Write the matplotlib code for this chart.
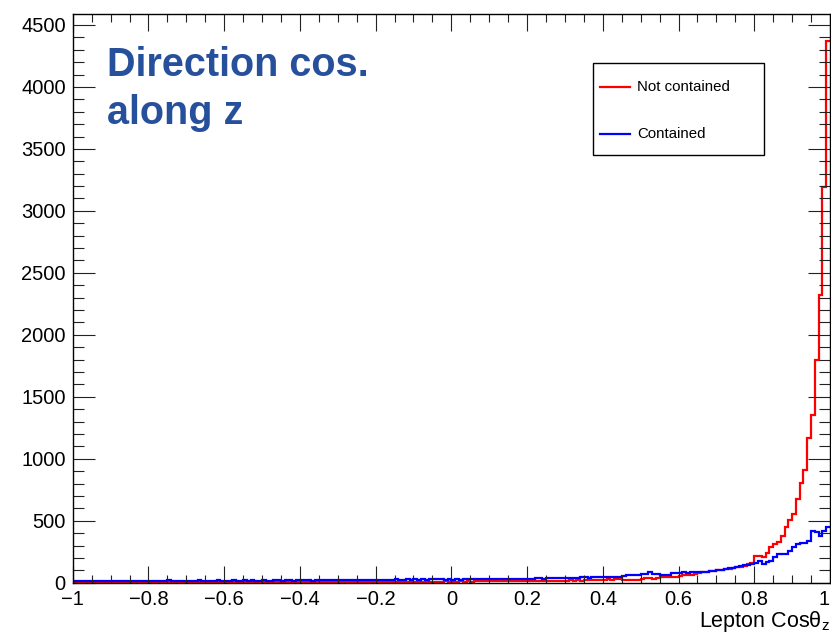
import numpy as np
from matplotlib import pyplot as plt
from matplotlib.patches import Rectangle
from matplotlib.lines import Line2D

plt.rcParams['font.family'] = ['Liberation Sans', 'DejaVu Sans']
plt.rcParams['mathtext.fontset'] = 'custom'
plt.rcParams['mathtext.rm'] = 'Liberation Sans'
plt.rcParams['mathtext.it'] = 'Liberation Sans:italic'

# 200 bins of lepton cos(theta_z), from -1 to 1
bin_edges = np.linspace(-1.0, 1.0, 201)

not_contained = [
    3, 4, 2, 5, 3, 4, 3, 2, 4, 3,
    4, 3, 5, 2, 3, 4, 3, 5, 4, 3,
    3, 5, 4, 3, 4, 2, 5, 4, 3, 4,
    4, 3, 5, 4, 3, 5, 4, 4, 3, 5,
    5, 4, 3, 5, 4, 6, 4, 3, 5, 4,
    4, 5, 6, 4, 5, 3, 5, 6, 4, 5,
    5, 6, 4, 5, 6, 5, 4, 6, 5, 7,
    6, 5, 7, 5, 6, 4, 6, 7, 5, 6,
    6, 7, 5, 8, 6, 7, 6, 8, 7, 6,
    7, 8, 6, 9, 7, 8, 9, 7, 10, 8,
    9, 8, 10, 9, 11, 9, 10, 12, 10, 11,
    11, 12, 10, 13, 11, 12, 14, 12, 13, 12,
    14, 13, 15, 14, 13, 16, 15, 14, 17, 15,
    16, 18, 17, 19, 17, 20, 18, 21, 19, 22,
    24, 27, 25, 28, 26, 22, 24, 21, 23, 25,
    30, 34, 36, 33, 38, 42, 46, 44, 50, 48,
    58, 62, 66, 64, 70, 78, 84, 88, 92, 96,
    100, 106, 110, 114, 118, 124, 130, 136, 150, 160,
    215, 212, 210, 240, 290, 312, 331, 377, 452, 506,
    552, 675, 802, 910, 1165, 1353, 1798, 2320, 3190, 4370,
]

contained = [
    14, 16, 13, 15, 17, 14, 15, 13, 16, 15,
    15, 17, 14, 16, 15, 13, 16, 17, 15, 14,
    16, 15, 17, 14, 16, 18, 15, 16, 14, 17,
    16, 15, 17, 18, 15, 16, 17, 15, 18, 16,
    17, 16, 18, 15, 17, 19, 16, 18, 17, 16,
    18, 17, 16, 19, 18, 17, 20, 18, 17, 19,
    18, 20, 19, 17, 21, 19, 18, 20, 22, 19,
    20, 21, 19, 22, 20, 23, 21, 20, 22, 24,
    22, 24, 23, 25, 22, 26, 24, 23, 27, 25,
    26, 24, 27, 25, 28, 26, 29, 27, 25, 28,
    24, 26, 25, 27, 28, 26, 29, 27, 30, 28,
    29, 31, 28, 30, 32, 29, 31, 33, 30, 32,
    33, 31, 34, 36, 33, 35, 37, 34, 38, 36,
    37, 39, 38, 40, 42, 44, 41, 43, 45, 44,
    46, 48, 47, 50, 49, 58, 62, 60, 64, 62,
    70, 72, 84, 74, 70, 64, 66, 62, 78, 80,
    82, 84, 80, 86, 88, 86, 90, 88, 94, 98,
    100, 104, 110, 116, 120, 128, 134, 140, 145, 152,
    160, 177, 153, 165, 175, 210, 232, 232, 235, 258,
    290, 312, 318, 320, 339, 420, 412, 377, 417, 452,
]

xtick_vals = [-1, -0.8, -0.6, -0.4, -0.2, 0, 0.2, 0.4, 0.6, 0.8, 1]
xtick_labels = ['\u22121', '\u22120.8', '\u22120.6', '\u22120.4', '\u22120.2',
                '0', '0.2', '0.4', '0.6', '0.8', '1']
ytick_vals = [0, 500, 1000, 1500, 2000, 2500, 3000, 3500, 4000, 4500]

fig = plt.figure(figsize=(8.31, 6.36), dpi=100)
ax = fig.add_axes([0.0875, 0.0838, 0.9113, 0.8942])

ax.stairs(not_contained, bin_edges, color='#ff0000', lw=1.6, baseline=None)
ax.stairs(contained, bin_edges, color='#0000ff', lw=1.6, baseline=None)

ax.set_xlim(-1, 1)
ax.set_ylim(0, 1.05 * max(not_contained))

ax.set_xticks(xtick_vals)
ax.set_xticklabels(xtick_labels)
ax.set_xticks(np.arange(-1, 1.001, 0.05), minor=True)
ax.set_yticks(ytick_vals)
ax.set_yticklabels([str(v) for v in ytick_vals])
ax.set_yticks(np.arange(0, 4600, 100), minor=True)

ax.tick_params(which='both', direction='in', top=True, right=True, width=0.8, colors='#222222')
ax.tick_params(axis='x', which='major', length=12, pad=5, labelsize=14.5, labelcolor='black')
ax.tick_params(axis='x', which='minor', length=6)
ax.tick_params(axis='y', which='major', length=16, pad=5, labelsize=14.5, labelcolor='black')
ax.tick_params(axis='y', which='minor', length=8)
for sp in ax.spines.values():
    sp.set_linewidth(1.0)
# the last label sits on the figure edge, keep it inside
ax.get_xticklabels()[-1].set_horizontalalignment('right')

fig.text(0.999, 0.0137, r'Lepton Cos$\mathrm{\theta}_{\mathrm{z}}$', ha='right', va='baseline',
         fontsize=15.5)

# big label in the top left corner
fig.text(0.1288, 0.8805, 'Direction cos.', fontsize=28.5, fontweight='bold',
         color='#27509c', ha='left', va='baseline')
fig.text(0.1288, 0.805, 'along z', fontsize=28.5, fontweight='bold',
         color='#27509c', ha='left', va='baseline')

# legend box
fig.patches.append(Rectangle((0.7136, 0.7563), 0.9194 - 0.7136, 0.9009 - 0.7563,
                             transform=fig.transFigure, facecolor='white',
                             edgecolor='black', lw=1.0, zorder=5))
for y, c, name in [(0.8632, '#ff0000', 'Not contained'), (0.7893, '#0000ff', 'Contained')]:
    fig.add_artist(Line2D([0.722, 0.758], [y, y], color=c, lw=1.6, zorder=6))
    fig.text(0.7665, y, name, fontsize=10.8, ha='left', va='center', zorder=6)

fig.savefig('out.png', dpi=100)
